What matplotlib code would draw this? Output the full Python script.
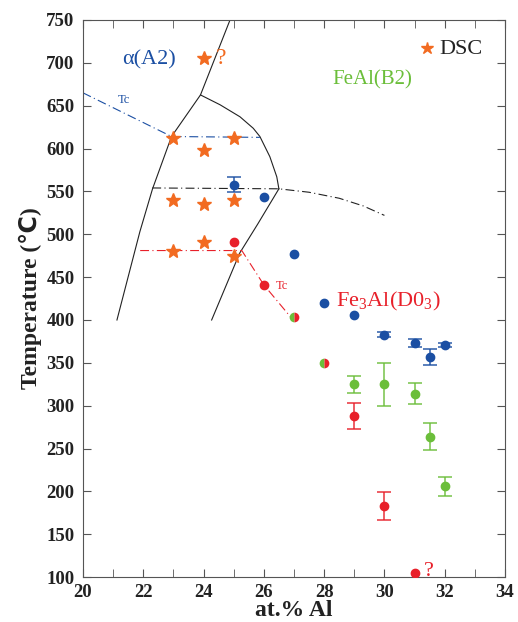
import numpy as np
import matplotlib
matplotlib.use("Agg")
import matplotlib.pyplot as plt

plt.rcParams['font.family'] = ['Liberation Serif', 'DejaVu Sans']
plt.rcParams['mathtext.fontset'] = 'custom'
plt.rcParams['mathtext.rm'] = 'Liberation Serif'

# DSC points (orange stars)
dsc_x = [24, 23, 25, 24, 23, 24, 25, 24, 23, 25]
dsc_y = [706, 612, 612, 598, 540, 535, 540, 491, 480, 475]

# blue points (A2/B2 transition)
blue_x = [25, 26, 27, 28, 29, 30, 31, 31.5, 32]
blue_y = [558, 544, 477, 420, 406, 383, 373, 357, 371]
blue_err = [8.5, 0, 0, 0, 0, 3.3, 5, 9, 2.5]

# green points
green_x = [29, 30, 31, 31.5, 32]
green_y = [325, 325, 314, 264, 206]
green_err = [10, 25, 12, 15.5, 11]

# red points
red_x = [25, 26, 29, 30, 31]
red_y = [491, 441, 288, 183, 105]
red_err = [0, 0, 15.5, 16, 0]

# half red / half green points
mixed_x = [27, 28]
mixed_y = [403, 350]

# phase boundaries
left_bx = [24.88, 23.9, 22.94, 22.31, 21.89, 21.13]
left_by = [750, 662.5, 614, 553, 503, 400]
dome_x = [23.9, 24.55, 25.21, 25.65, 25.87, 26.2, 26.43, 26.5]
dome_y = [662.5, 651, 637, 623.6, 614, 590.5, 567, 553]
right_bx = [26.5, 25.8, 25.2, 24.27]
right_by = [553, 512, 478, 400]
b2_x = [22.3, 26.5, 27.5, 28.5, 29.3, 30.0]
b2_y = [554, 553, 549, 542, 533, 522]
tc_a2_x = [20, 22.94, 25.87]
tc_a2_y = [665, 614, 613]
tc_d03_x = [21.9, 25.27, 26.0, 26.9]
tc_d03_y = [481, 481, 441, 403]

orange = '#F26B21'
blue = '#1B4FA3'
green = '#6BBE3A'
red = '#E8202A'

fig = plt.figure(figsize=(5.18, 6.22), dpi=100)
ax = fig.add_axes([0.160, 0.072, 0.815, 0.896])

# boundary lines
ax.plot(left_bx, left_by, color='#222222', lw=0.8)
ax.plot(dome_x, dome_y, color='#222222', lw=0.8)
ax.plot(right_bx, right_by, color='#222222', lw=0.8)
ax.plot(b2_x, b2_y, color='#222222', lw=0.8, ls=(0, (8, 3, 1, 3)))
ax.plot(tc_a2_x, tc_a2_y, color=blue, lw=0.8, ls=(0, (8, 3, 1, 3)))
ax.plot(tc_d03_x, tc_d03_y, color=red, lw=0.8, ls=(0, (8, 3, 1, 3)))

# DSC stars
ax.plot(dsc_x, dsc_y, ls='none', marker='*', ms=10.5, color=orange, zorder=5)

def draw(xs, ys, errs, c):
    xs, ys, errs = np.array(xs), np.array(ys), np.array(errs)
    m = errs > 0
    ax.errorbar(xs[m], ys[m], yerr=errs[m], fmt='none', ecolor=c,
                elinewidth=1.2, capsize=5, capthick=1.2, zorder=4, alpha=0.85)
    ax.plot(xs, ys, ls='none', marker='o', ms=6, color=c, zorder=5)

draw(blue_x, blue_y, blue_err, blue)
draw(green_x, green_y, green_err, green)
draw(red_x, red_y, red_err, red)

ax.plot(mixed_x, mixed_y, ls='none', marker='o', ms=7, fillstyle='left',
        markerfacecolor=green, markerfacecoloralt=red, markeredgewidth=0,
        zorder=5)

# labels on the chart
ax.text(22.2, 703, '\u03b1(A2)', color=blue, fontsize=16, ha='center', va='center')
ax.text(21.35, 656, 'Tc', color=blue, fontsize=9, ha='center', va='center')
ax.text(24.4, 705, '?', color=orange, fontsize=17, ha='left', va='center')
ax.text(29.6, 680, 'FeAl(B2)', color=green, fontsize=15, ha='center', va='center')
ax.text(28.4, 422, r'Fe$_3$Al(D0$_3$)', color=red, fontsize=16, ha='left', va='center')
ax.text(26.4, 440, 'Tc', color=red, fontsize=9, ha='left', va='center')
ax.text(31.3, 107, '?', color=red, fontsize=16, ha='left', va='center')

# legend
ax.plot([31.42], [717], marker='*', ms=9, color=orange, ls='none')
ax.text(31.82, 716, 'DSC', color='#222222', fontsize=16, ha='left', va='center')

ax.set_xlim(20, 34)
ax.set_ylim(100, 750)
ax.set_xticks(np.arange(20, 35, 2))
ax.set_xticks(np.arange(20, 35, 1), minor=True)
ax.set_yticks(np.arange(100, 751, 50))
ax.tick_params(which='both', direction='in', top=True, right=True,
               labelsize=13.5, color='#555555', labelcolor='#222222')
ax.tick_params(which='both', length=6)
ax.tick_params(axis='y', pad=6)
ax.tick_params(axis='x', pad=5)
for lab in ax.get_xticklabels() + ax.get_yticklabels():
    lab.set_fontweight('bold')
for sp in ax.spines.values():
    sp.set_color('#555555')

ax.set_xlabel('at.% Al', fontsize=17, fontweight='bold', labelpad=-1, color='#222222')
ax.set_ylabel('Temperature (\u2103)', fontsize=17, fontweight='bold', labelpad=3,
              color='#222222')

fig.savefig('out.png', dpi=100)
